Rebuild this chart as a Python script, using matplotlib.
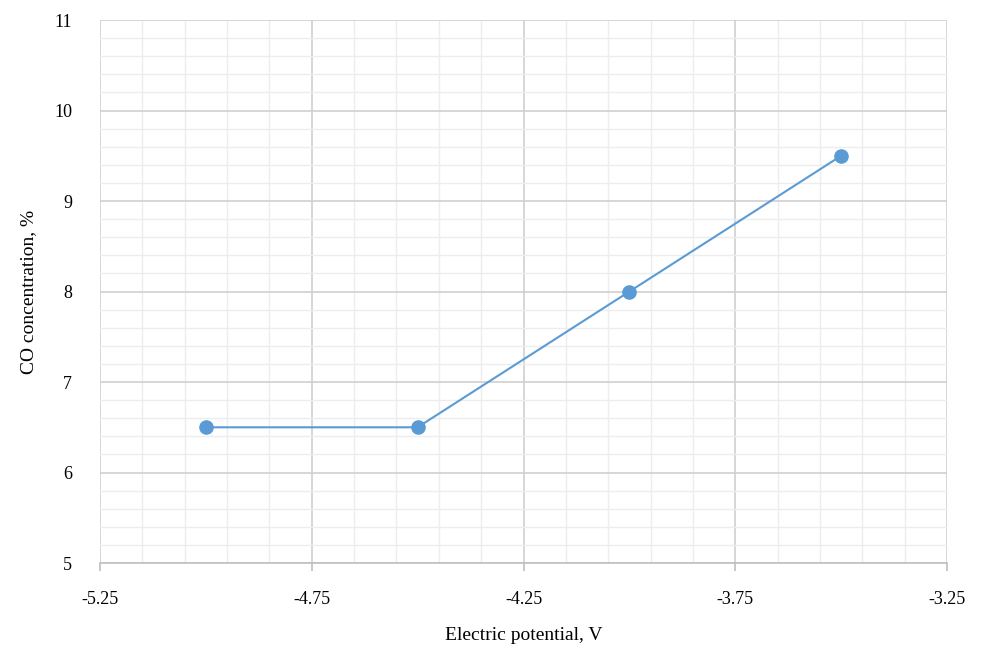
import numpy as np
import matplotlib
matplotlib.use('Agg')
import matplotlib.pyplot as plt
from matplotlib.ticker import MultipleLocator, FixedLocator

# electric potential (V) vs CO concentration (%)
potential = [-5.0, -4.5, -4.0, -3.5]
co_conc = [6.5, 6.5, 8.0, 9.5]

xticks = [-5.25, -4.75, -4.25, -3.75, -3.25]
xtick_labels = ['-5.25', '-4.75', '-4.25', '-3.75', '-3.25']
yticks = [5, 6, 7, 8, 9, 10, 11]

plt.rcParams['font.family'] = ['Liberation Serif', 'DejaVu Serif']

fig = plt.figure(figsize=(9.87, 6.5), dpi=100)
ax = fig.add_axes([0.1013, 0.1338, 0.8582, 0.8354])

ax.plot(potential, co_conc, color='#5B9BD5', lw=1.5, marker='o', ms=9.5, zorder=3)

ax.set_xlim(-5.25, -3.25)
ax.set_ylim(5, 11)
ax.set_xticks(xticks)
ax.set_xticklabels(xtick_labels)
ax.set_yticks(yticks)
ax.xaxis.set_minor_locator(FixedLocator(np.arange(-5.25, -3.2, 0.1)))
ax.yaxis.set_minor_locator(MultipleLocator(0.2))

ax.grid(which='major', color='#D0D0D0', lw=1.2)
ax.grid(which='minor', color='#EDEDED', lw=1.0)
ax.set_axisbelow(True)

for s in ['top', 'right', 'left']:
    ax.spines[s].set_visible(False)
ax.spines['bottom'].set_color('#BFBFBF')
ax.spines['bottom'].set_linewidth(1.2)

ax.tick_params(axis='x', which='major', length=6, color='#BFBFBF', width=1.2,
               labelsize=13, pad=14)
ax.tick_params(axis='x', which='minor', length=0)
ax.tick_params(axis='y', which='both', length=0, labelsize=13, pad=20)

ax.set_xlabel('Electric potential, V', fontsize=14, labelpad=14)
ax.set_ylabel('CO concentration, %', fontsize=14, labelpad=12)

plt.savefig('out.png', dpi=100)
